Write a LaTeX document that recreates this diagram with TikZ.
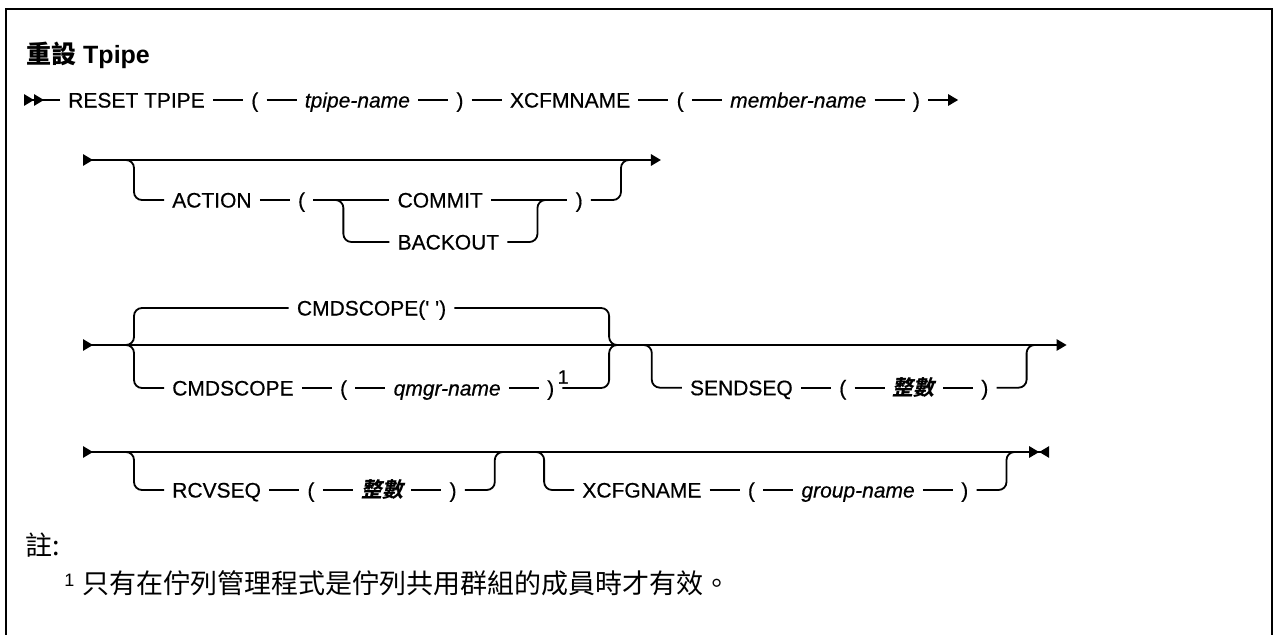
\documentclass[tikz,border=0pt]{standalone}
\usepackage{fontspec}
\setmainfont{Liberation Sans}
\newfontfamily\railfam[FakeBold=0.5]{Liberation Sans}
\newfontfamily\cjk{Noto Sans CJK TC}
\newfontfamily\cjkslant[FakeSlant=0.2]{Noto Sans CJK TC}
\usetikzlibrary{arrows.meta, positioning, calc}

\newcommand\railfont{\railfam\fontsize{15.75}{18}\selectfont}

\tikzset{
  Railhead/.tip={Triangle[length=7.5pt, width=8.5pt]},
  kw/.style={font=\railfont, anchor=west, inner xsep=6pt, inner ysep=0pt,
    text height=11.3pt, text depth=0pt},
  var/.style={kw, font=\railfont\itshape},
  cvar/.style={kw, font=\railfont\cjkslant\bfseries},
  rail/.style={line width=1.35pt},
  fork/.style={rail, rounded corners=6pt},
  supnum/.style={font=\railfam\fontsize{14.5}{16}\selectfont, inner sep=0pt, anchor=south west},
  node distance=22.5pt
}

\begin{document}
\begin{tikzpicture}[x=0.75pt, y=-0.75pt]
  \useasboundingbox (0,0) rectangle (1274,635);
  \draw[line width=1.5pt] (6,635) -- (6,9) -- (1272,9) -- (1272,635);

  \node[anchor=west, inner sep=0pt, font=\fontsize{18.75}{20}\selectfont\bfseries] (title) at (26,55) {{\cjk\bfseries 重設} Tpipe};

  % row 1
  \coordinate (s1) at (24,100);
  \node[kw] (reset) at (60,100) {RESET TPIPE};
  \node[kw, right=of reset] (tl) {(};
  \node[var, right=of tl] (tpn) {tpipe-name};
  \node[kw, right=of tpn] (tr) {)};
  \node[kw, right=of tr] (xcfm) {XCFMNAME};
  \node[kw, right=of xcfm] (ml) {(};
  \node[var, right=of ml] (mbn) {member-name};
  \node[kw, right=of mbn] (mr) {)};
  \coordinate[right=of mr] (e1);
  \draw[rail, {Railhead[reversed]Railhead[reversed]}-] (s1) -- (reset.west);
  \foreach \a/\b in {reset/tl, tl/tpn, tpn/tr, tr/xcfm, xcfm/ml, ml/mbn, mbn/mr}
    \draw[rail] (\a.east) -- (\b.west);
  \draw[rail, -{Railhead}] (mr.east) -- (e1);

  % row 2
  \coordinate (s2) at (83,160);
  \coordinate (d2) at (134,160);
  \node[kw] (act) at (164,200) {ACTION};
  \node[kw, right=of act] (al) {(};
  \coordinate[right=of al] (fa);
  \node[kw, right=34.5pt of fa] (commit) {COMMIT};
  \node[kw] (backout) at ([yshift=-31.5pt]commit.west) {BACKOUT};
  \coordinate (fb0) at ([xshift=22.5pt]backout.east);
  \coordinate (fb) at (fb0 |- commit);
  \node[kw, right=of fb] (ar) {)};
  \coordinate (r2a) at ([xshift=22.5pt]ar.east);
  \coordinate (r2) at (r2a |- s2);
  \coordinate (e2) at ([xshift=30pt]r2);
  \draw[rail, {Railhead[reversed]}-{Railhead}] (s2) -- (e2);
  \draw[fork] ([xshift=-6pt]d2) -- (d2) |- (act.west);
  \foreach \a/\b in {act/al, al/commit, commit/ar}
    \draw[rail] (\a.east) -- (\b.west);
  \draw[fork] ([xshift=-6pt]fa) -- (fa) |- (backout.west);
  \draw[fork] (backout.east) -| (fb) -- ([xshift=6pt]fb);
  \draw[fork] (ar.east) -| (r2) -- ([xshift=6pt]r2);

  % row 3
  \coordinate (s3) at (83,345);
  \coordinate (lb) at (134,345);
  \node[kw] (cmd) at (164,388) {CMDSCOPE};
  \node[kw, right=of cmd] (cl) {(};
  \node[var, right=of cl] (qmn) {qmgr-name};
  \node[kw, right=of qmn] (cr) {)};
  \node[supnum] (n1) at ([xshift=-3.75pt, yshift=3pt]cr.east) {1};
  \coordinate (rb0) at ([xshift=35pt]cr.east);
  \coordinate (rb) at (rb0 |- s3);
  \node[kw, anchor=center] (cmdt) at ($(lb)!0.5!(rb) + (0,-37)$) {CMDSCOPE(\textquotesingle\ \textquotesingle)};
  \coordinate (ds) at ([xshift=32pt]rb);
  \node[kw] (snd) at ([xshift=22.5pt, yshift=-32pt]ds) {SENDSEQ};
  \node[kw, right=of snd] (sl) {(};
  \node[cvar, right=of sl] (sint) {整數};
  \node[kw, right=of sint] (sr) {)};
  \coordinate (r3a) at ([xshift=22.5pt]sr.east);
  \coordinate (r3) at (r3a |- s3);
  \coordinate (e3) at ([xshift=30pt]r3);
  \draw[rail, {Railhead[reversed]}-{Railhead}] (s3) -- (e3);
  \draw[fork] ([xshift=-6pt]lb) -- (lb) |- (cmdt.west);
  \draw[fork] ([xshift=-6pt]lb) -- (lb) |- (cmd.west);
  \draw[fork] (cmdt.east) -| (rb) -- ([xshift=6pt]rb);
  \draw[fork] (cr.east) -| (rb) -- ([xshift=6pt]rb);
  \foreach \a/\b in {cmd/cl, cl/qmn, qmn/cr, snd/sl, sl/sint, sint/sr}
    \draw[rail] (\a.east) -- (\b.west);
  \draw[fork] ([xshift=-6pt]ds) -- (ds) |- (snd.west);
  \draw[fork] (sr.east) -| (r3) -- ([xshift=6pt]r3);

  % row 4
  \coordinate (s4) at (83,452);
  \coordinate (d4) at (134,452);
  \node[kw] (rcv) at (164,490) {RCVSEQ};
  \node[kw, right=of rcv] (rl) {(};
  \node[cvar, right=of rl] (rint) {整數};
  \node[kw, right=of rint] (rr) {)};
  \coordinate (r4a) at ([xshift=22.5pt]rr.east);
  \coordinate (r4) at (r4a |- s4);
  \coordinate (dx) at ([xshift=37pt]r4);
  \node[kw] (xcfg) at ([xshift=22.5pt, yshift=-28.5pt]dx) {XCFGNAME};
  \node[kw, right=of xcfg] (gl) {(};
  \node[var, right=of gl] (gpn) {group-name};
  \node[kw, right=of gpn] (gr) {)};
  \coordinate (r5a) at ([xshift=22.5pt]gr.east);
  \coordinate (r5) at (r5a |- s4);
  \coordinate (e4) at ([xshift=32pt]r5);
  \draw[rail, {Railhead[reversed]}-{Railhead[]Railhead[reversed]}] (s4) -- (e4);
  \draw[fork] ([xshift=-6pt]d4) -- (d4) |- (rcv.west);
  \draw[fork] ([xshift=-6pt]dx) -- (dx) |- (xcfg.west);
  \foreach \a/\b in {rcv/rl, rl/rint, rint/rr, xcfg/gl, gl/gpn, gpn/gr}
    \draw[rail] (\a.east) -- (\b.west);
  \draw[fork] (rr.east) -| (r4) -- ([xshift=6pt]r4);
  \draw[fork] (gr.east) -| (r5) -- ([xshift=6pt]r5);

  % notes
  \node[anchor=west, inner sep=0pt, font=\fontsize{20.25}{22}\selectfont\cjk] (note) at (25,545) {註:};
  \node[anchor=west, inner sep=0pt, font=\fontsize{20.25}{22}\selectfont] (fnote) at (64,583)
    {\raisebox{5pt}{\fontsize{13.5}{15}\selectfont 1}\hspace{6pt}{\cjk 只有在佇列管理程式是佇列共用群組的成員時才有效。}};
\end{tikzpicture}
\end{document}
